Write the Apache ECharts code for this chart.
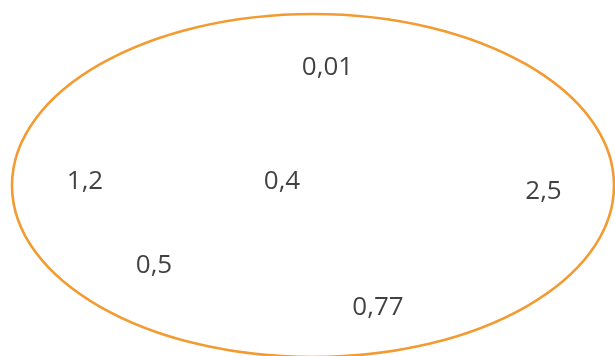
<!DOCTYPE html>
<html>
<head>
<meta charset="utf-8">
<script src="https://cdn.jsdelivr.net/npm/echarts@6/dist/echarts.min.js"></script>
<style>
html,body{margin:0;padding:0;background:#fff;}
#chart{width:615px;height:356px;}
</style>
</head>
<body>
<div id="chart"></div>
<script>
// Label values and their positions in the diagram (data units = px on a 615x356 canvas)
var labels = ['0,01', '1,2', '0,4', '2,5', '0,5', '0,77'];
var labelX = [327.5, 85, 282, 543.5, 154, 378];
var labelY = [68, 181.5, 181.5, 191.5, 266, 307.5];
// Ellipse: center and radii
var ellipseCenter = [313, 185.5];
var ellipseRadii = [301, 171.5];

var chart = echarts.init(document.getElementById('chart'));
var pts = labels.map(function (l, i) { return [labelX[i], labelY[i], l]; });

chart.setOption({
  animation: false,
  grid: {left: 0, right: 0, top: 0, bottom: 0},
  xAxis: {type: 'value', min: 0, max: 615, show: false},
  yAxis: {type: 'value', min: 0, max: 356, inverse: true, show: false},
  series: [
    {
      type: 'custom',
      silent: true,
      clip: false,
      data: [[ellipseCenter[0], ellipseCenter[1], ellipseRadii[0], ellipseRadii[1]]],
      renderItem: function (params, api) {
        var c = api.coord([api.value(0), api.value(1)]);
        var s = api.size([api.value(2), api.value(3)]);
        return {
          type: 'ellipse',
          shape: {cx: c[0], cy: c[1], rx: s[0], ry: s[1]},
          style: {fill: 'none', stroke: '#F39A30', lineWidth: 2.6}
        };
      }
    },
    {
      type: 'scatter',
      symbolSize: 0,
      data: pts,
      label: {
        show: true,
        position: 'inside',
        formatter: function (p) { return p.value[2]; },
        fontFamily: 'Open Sans',
        fontSize: 26,
        color: '#111111',
        textBorderWidth: 0
      }
    }
  ]
});
</script>
</body>
</html>
